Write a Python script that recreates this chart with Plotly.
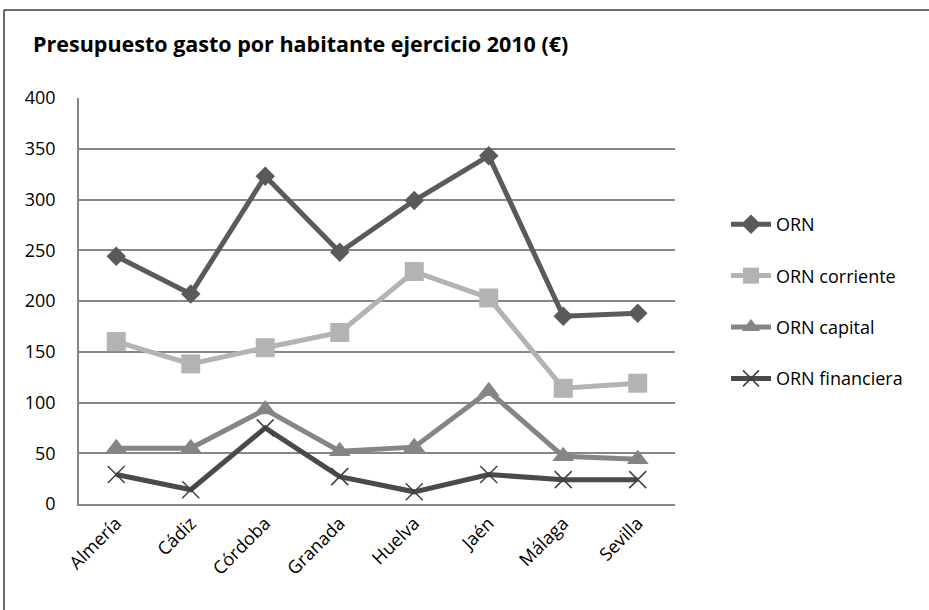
import plotly.graph_objects as go

categories = ["Almería", "Cádiz", "Córdoba", "Granada", "Huelva", "Jaén", "Málaga", "Sevilla"]
orn = [244, 207, 323, 248, 299, 343, 185, 188]
orn_corriente = [160, 138, 154, 169, 229, 203, 114, 119]
orn_capital = [55, 55, 93, 52, 56, 111, 47, 44]
orn_financiera = [29, 14, 75, 27, 12, 29, 24, 24]
y_ticks = [0, 50, 100, 150, 200, 250, 300, 350, 400]

FONT = "Open Sans"
fig = go.Figure()

fig.add_trace(go.Scatter(
    x=categories, y=orn, name="ORN", mode="lines+markers", legendgroup="a",
    line=dict(color="#5a5a5a", width=5),
    marker=dict(symbol="diamond", size=15, color="#5a5a5a")))
fig.add_trace(go.Scatter(
    x=categories, y=orn_corriente, name="ORN corriente", mode="lines+markers", legendgroup="b",
    line=dict(color="#b3b3b3", width=5),
    marker=dict(symbol="square", size=19, color="#b3b3b3")))
fig.add_trace(go.Scatter(
    x=categories, y=orn_capital, name="ORN capital", mode="lines+markers", legendgroup="c",
    line=dict(color="#858585", width=5),
    marker=dict(symbol="triangle-up", size=19, color="#858585")))
fig.add_trace(go.Scatter(
    x=categories, y=orn_financiera, name="ORN financiera", mode="lines+markers", legendgroup="d",
    line=dict(color="#4a4a4a", width=5),
    marker=dict(symbol="x-thin", size=17, color="#404040",
                line=dict(color="#404040", width=1.5))))

L, R, T, B = 79, 254, 98, 106
W, H = 929, 610
pw, ph = W - L - R, H - T - B
bx = (4 - L) / pw
by = (H - B - 10) / ph

fig.add_shape(type="line", xref="paper", yref="paper", x0=bx, x1=bx, y0=by, y1=-0.5,
              line=dict(color="#3a3a3a", width=1.5))
fig.add_shape(type="line", xref="paper", yref="paper", x0=bx, x1=1.6, y0=by, y1=by,
              line=dict(color="#3a3a3a", width=1.5))

fig.update_layout(
    width=W, height=H,
    margin=dict(l=L, r=R, t=T, b=B),
    paper_bgcolor="white", plot_bgcolor="white",
    font=dict(family=FONT, color="#000000", size=18),
    title=dict(text="<b>Presupuesto gasto por habitante ejercicio 2010 (€)</b>",
               x=33 / W, xanchor="left", y=1 - 44 / H, yanchor="middle",
               font=dict(family=FONT, size=21.5, color="#000000")),
    showlegend=True,
    legend=dict(x=(726 - L) / pw, xanchor="left", y=(H - B - 206) / ph, yanchor="top",
                font=dict(family=FONT, size=18, color="#000000"),
                tracegroupgap=25, itemwidth=40, bgcolor="rgba(0,0,0,0)"),
)
fig.update_xaxes(type="category", showgrid=False, showline=True, linecolor="#868686", linewidth=1.5,
                 ticks="", tickangle=-45, tickfont=dict(family=FONT, size=18),
                 range=[-0.5, 7.5], fixedrange=True)
fig.update_yaxes(range=[0, 400], tickvals=y_ticks, showgrid=True, gridcolor="#868686", gridwidth=1.5,
                 showline=True, linecolor="#868686", linewidth=1.5, zeroline=False,
                 ticks="", ticklabelstandoff=18, tickfont=dict(family=FONT, size=18),
                 fixedrange=True)

fig.write_html("out.html", config={"displayModeBar": False},
               post_script="document.body.style.margin='0';document.body.style.overflow='hidden';")
